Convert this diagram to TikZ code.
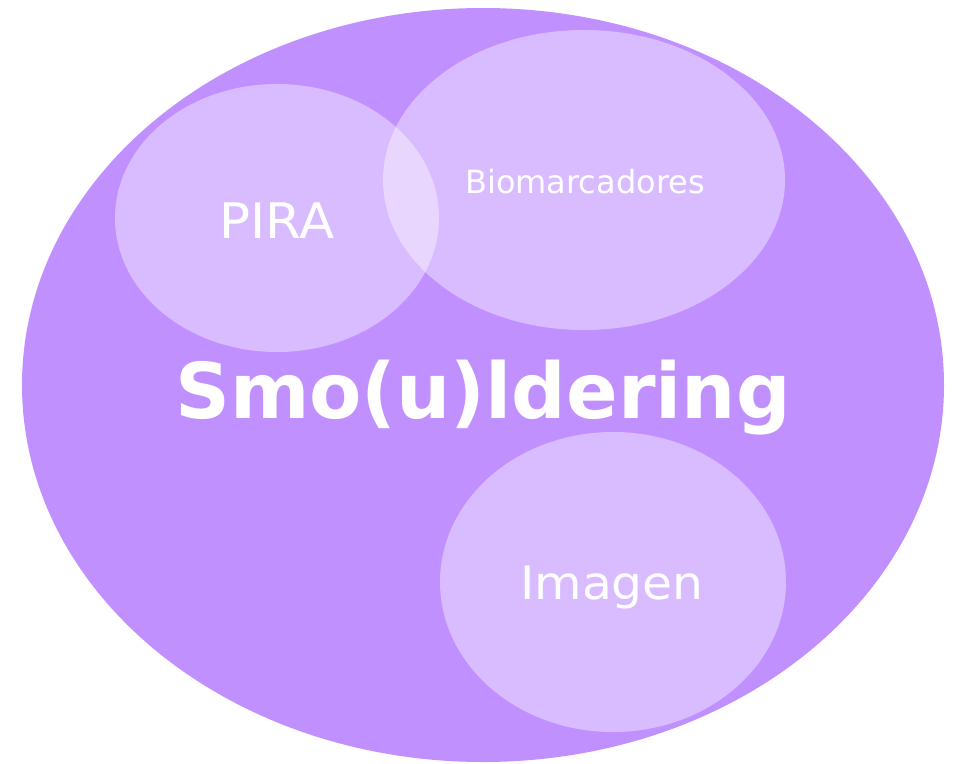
\documentclass[tikz,border=0pt]{standalone}
\usepackage{fontspec}
\setmainfont{DejaVu Sans}
\definecolor{bigpurple}{HTML}{C190FF}
\tikzset{
  bigblob/.style={fill=bigpurple},
  smallblob/.style={fill=white, fill opacity=0.4},
  lbl/.style={text=white, anchor=base, inner sep=0pt}
}
\begin{document}
\begin{tikzpicture}[x=1pt,y=-1pt]
\useasboundingbox (0,0) rectangle (958,763);
\fill[white] (0,0) rectangle (958,763);
\path[bigblob] (483,385) ellipse [x radius=461, y radius=377];
\path[smallblob] (277,218) ellipse [x radius=162, y radius=134];
\path[smallblob] (584,180) ellipse [x radius=201, y radius=150];
\path[smallblob] (613,582) ellipse [x radius=173, y radius=150];
\node[lbl, font=\fontsize{49}{56}\selectfont] (pira) at (277,238) {\scalebox{1.05}[1]{PIRA}};
\node[lbl, font=\fontsize{32}{36}\selectfont] (bio) at (585,193) {Biomarcadores};
\node[lbl, font=\fontsize{46}{52}\selectfont] (img) at (612,599) {\scalebox{1.06}[1]{Imagen}};
\node[lbl, font=\fontsize{77}{90}\selectfont\bfseries] (smo) at (483,418) {\scalebox{0.99}[1]{Smo(u)ldering}};
\end{tikzpicture}
\end{document}
